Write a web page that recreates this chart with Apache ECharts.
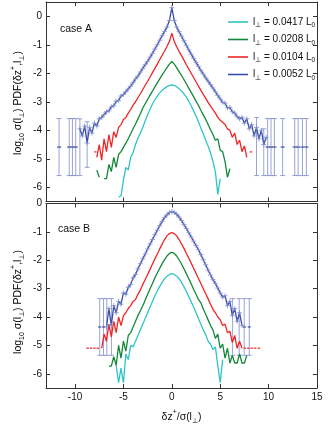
<!DOCTYPE html>
<html><head><meta charset="utf-8">
<script src="https://cdn.jsdelivr.net/npm/echarts@6/dist/echarts.min.js"></script>
<style>html,body{margin:0;padding:0;background:#fff}#c{width:333px;height:426px}</style>
</head><body><div id="c"></div>
<script>
// shared x grid (delta z+ / sigma), step 0.25 from -10 to 10
const xs = [
-10,-9.75,-9.5,-9.25, -9,-8.75,-8.5,-8.25, -8,-7.75,-7.5,-7.25, -7,-6.75,-6.5,-6.25,
-6,-5.75,-5.5,-5.25, -5,-4.75,-4.5,-4.25, -4,-3.75,-3.5,-3.25, -3,-2.75,-2.5,-2.25,
-2,-1.75,-1.5,-1.25, -1,-0.75,-0.5,-0.25,
0,0.25,0.5,0.75, 1,1.25,1.5,1.75, 2,2.25,2.5,2.75, 3,3.25,3.5,3.75, 4,4.25,4.5,4.75,
5,5.25,5.5,5.75, 6,6.25,6.5,6.75, 7,7.25,7.5,7.75, 8,8.25,8.5,8.75, 9,9.25,9.5,9.75,
10];
const legendNames = ['0.0417','0.0208','0.0104','0.0052'];

// ---- case A ----
const cyanA = [
null,null,null,null, null,null,null,null, null,null,null,null, null,null,null,null,
null,null,-6.35,-6.3, -5.75,-5.3,-5.4,-4.95, -4.78,-4.5,-4.28,-4.1, -3.9,-3.67,-3.46,-3.26,
-3.08,-2.93,-2.8,-2.69, -2.6,-2.53,-2.47,-2.43,
-2.41,-2.43,-2.47,-2.54, -2.62,-2.72,-2.84,-2.98, -3.14,-3.32,-3.5,-3.7, -3.92,-4.12,-4.35,-4.55,
-4.8,-5.1,-5.45,-6.25, -5.7,null,null,null, null,null,null,null, null,null,null,null,
null,null,null,null, null,null,null,null, null];
const greenA = [
null,null,null,null, null,null,null,null, null,-5.4,-5.65,null, -5.7,-5.7,-5.2,-5.45,
-4.95,-5.3,-4.85,-4.75, -4.6,-4.45,-4.3,-4.12, -3.95,-3.78,-3.6,-3.42, -3.22,-3.07,-2.92,-2.77,
-2.63,-2.48,-2.34,-2.2, -2.06,-1.93,-1.8,-1.68,
-1.59,-1.68,-1.8,-1.94, -2.08,-2.22,-2.37,-2.52, -2.67,-2.82,-2.98,-3.13, -3.3,-3.46,-3.62,-3.8,
-3.98,-4.15,-4.35,-4.3, -4.7,-4.75,-5.1,-5.65, -5.35,null,null,null, null,null,null,null,
null,null,null,null, null,null,null,null, null];
const redA = [
null,null,null,null, null,null,null,null, null,-4.95,-4.5,-5.05, -4.3,-4.75,-4.15,-4.6,
-4.05,-4.25,-3.9,-3.8, -3.62,-3.55,-3.4,-3.28, -3.12,-3.0,-2.86,-2.72, -2.57,-2.42,-2.28,-2.13,
-1.98,-1.83,-1.68,-1.52, -1.37,-1.22,-1.06,-0.88,
-0.59,-0.88,-1.07,-1.23, -1.38,-1.54,-1.7,-1.85, -2.0,-2.15,-2.3,-2.45, -2.6,-2.74,-2.88,-3.02,
-3.15,-3.28,-3.4,-3.55, -3.65,-3.72,-3.8,-3.95, -4.0,-4.25,-4.1,-4.5, -4.35,-4.75,-4.55,-4.95,
null,null,null,null, null,null,null,null, null];
const blueA = [
null,null,-3.95,-4.2, -3.85,-4.45,-3.9,-4.1, -3.75,-3.85,-3.6,-3.55, -3.45,-3.35,-3.32,-3.18,
-3.14,-2.98,-2.96,-2.8, -2.75,-2.65,-2.55,-2.45, -2.33,-2.2,-2.1,-1.96, -1.83,-1.7,-1.58,-1.44,
-1.3,-1.15,-1.0,-0.84, -0.68,-0.53,-0.38,-0.15,
0.3,-0.15,-0.38,-0.54, -0.7,-0.86,-1.02,-1.18, -1.33,-1.48,-1.62,-1.76, -1.9,-2.03,-2.16,-2.28,
-2.4,-2.52,-2.65,-2.78, -2.9,-3.02,-3.05,-3.22, -3.2,-3.35,-3.4,-3.52, -3.6,-3.55,-3.75,-3.6,
-3.95,-3.8,-4.2,-3.9, -4.3,-4.0,-4.5,-4.25, null];
// isolated single-count points, case A
const blueAIsoX = [-11.65,-10.6,-10.27,-9.93, 9.9,10.25,10.6,11.45,12.7,13.05,13.5,13.9];
const blueAIsoY = [-4.59,-4.59,-4.59,-4.59, -4.59,-4.59,-4.59,-4.59,-4.59,-4.59,-4.59,-4.59];
const redAIsoX = [-7.9, 8.17];
const redAIsoY = [-4.76, -4.76];
// large error bars, case A (blue)
const errAX  = [-11.65,-10.6,-10.27,-9.93,-9.5,-8.75, 8.75, 9.5, 9.9,10.25,10.6,11.45,12.7,13.05,13.5,13.9];
const errALo = [-5.59,-5.59,-5.59,-5.59,-5.59,-5.3, -5.59,-5.59, -5.59,-5.59,-5.59,-5.59,-5.59,-5.59,-5.59,-5.59];
const errAHi = [-3.59,-3.59,-3.59,-3.59,-3.6,-3.7, -3.55,-3.95, -3.59,-3.59,-3.59,-3.59,-3.59,-3.59,-3.59,-3.59];

// ---- case B ----
const cyanB = [
null,null,null,null, null,null,null,null, null,null,null,null, null,null,null,null,
null,-5.7,-6.31,-5.8, -6.31,-5.3,-5.5,-5.0, -5.05,-4.85,-4.65,-4.45, -4.25,-4.05,-3.85,-3.65,
-3.45,-3.25,-3.08,-2.92, -2.78,-2.65,-2.56,-2.5,
-2.47,-2.5,-2.56,-2.65, -2.78,-2.93,-3.1,-3.28, -3.46,-3.65,-3.84,-4.05, -4.25,-4.45,-4.62,-4.85,
-4.95,-5.15,-5.05,-5.7, -6.31,-5.5,null,null, null,null,null,null, null,null,null,null,
null,null,null,null, null,null,null,null, null];
const greenB = [
null,null,null,null, null,null,null,null, null,null,null,null, null,null,-5.73,-5.73,
-5.4,-5.7,-5.0,-5.45, -4.85,-5.2,-4.65,-4.55, -4.35,-4.15,-3.95,-3.78, -3.6,-3.4,-3.2,-3.0,
-2.82,-2.62,-2.45,-2.28, -2.12,-1.98,-1.85,-1.76,
-1.72,-1.76,-1.85,-1.98, -2.13,-2.3,-2.47,-2.65, -2.83,-3.02,-3.2,-3.38, -3.5,-3.72,-3.9,-4.1,
-4.3,-4.45,-4.75,-4.6, -5.1,-4.95,-5.45,-5.1, -5.62,-5.35,-5.62,-5.62, -5.3,-5.62,-5.62,-5.35,
null,null,null,null, null,null,null,null, null];
const redB = [
null,null,null,null, null,null,null,null, null,null,null,-5.1, -4.6,-4.85,-4.25,-4.7,
-4.15,-4.55,-4.0,-4.3, -3.95,-3.85,-3.7,-3.6, -3.45,-3.38,-3.2,-3.05, -2.85,-2.68,-2.5,-2.32,
-2.13,-1.95,-1.78,-1.6, -1.43,-1.27,-1.14,-1.06,
-1.03,-1.06,-1.14,-1.27, -1.42,-1.58,-1.75,-1.92, -2.1,-2.28,-2.46,-2.64, -2.82,-3.0,-3.18,-3.36,
-3.55,-3.72,-3.85,-4.0, -4.1,-4.3,-4.25,-4.55, -4.5,-4.9,-4.65,-5.1, -4.85,-5.1,null,null,
null,null,null,null, null,null,null,null, null];
const blueB = [
null,null,null,null, null,null,null,null, null,null,null,null, null,-4.35,-3.7,-4.3,
-3.6,-3.85,-3.45,-3.55, -3.15,-3.2,-2.95,-2.85, -2.62,-2.5,-2.3,-2.12, -1.95,-1.78,-1.6,-1.43,
-1.27,-1.1,-0.94,-0.78, -0.63,-0.5,-0.4,-0.32,
-0.29,-0.31,-0.38,-0.48, -0.6,-0.74,-0.88,-1.03, -1.18,-1.33,-1.48,-1.63, -1.8,-1.98,-2.16,-2.35,
-2.52,-2.68,-2.82,-2.98, -3.15,-3.3,-3.25,-3.6, -3.45,-3.95,-3.7,-4.15, -3.85,-4.3,null,null,
null,null,null,null, null,null,null,null, null];
const blueBIsoX = [-7.45,-7.06, 7.5, 8.0];
const blueBIsoY = [-4.35,-4.35,-4.35,-4.35];
const redBIsoX = [-8.7,-8.35,-8.0,-7.65, 7.55,7.9,8.25,8.6,9.0];
const redBIsoY = [-5.1,-5.1,-5.1,-5.1, -5.1,-5.1,-5.1,-5.1,-5.1];
const errBX  = [-7.45,-7.06,-6.72,-6.24, 6.28,6.96,7.48,8.0];
const errBLo = [-5.35,-5.35,-5.35,-5.35, -5.35,-5.35,-5.35,-5.35];
const errBHi = [-3.35,-3.35,-3.35,-3.35, -3.35,-3.35,-3.35,-3.35];

const xTicks = [-10,-5,0,5,10,15];
const yTicksA = [-6,-5,-4,-3,-2,-1,0];
const yTicksB = [-6,-5,-4,-3,-2,-1,0];

const C = {cyan:'#2ec5c5', green:'#14883a', red:'#f02626', blue:'#3a4ea8', err:'rgba(128,140,205,0.8)'};
const FONT = 'Liberation Sans, Arial, sans-serif';
const AX = '#333';

function xAx(grid, pos, labels, extra) {
  return Object.assign({
    type:'value', gridIndex:grid, position:pos, min:-13, max:15,
    axisLine:{show:true, onZero:false, lineStyle:{color:AX, width:1}},
    axisTick:{show:true, inside:true, length:4, customValues:xTicks, lineStyle:{color:AX}},
    axisLabel:{show:labels, customValues:xTicks, fontSize:10, color:'#111', fontFamily:FONT, margin:4},
    splitLine:{show:false}
  }, extra||{});
}
function yAx(grid, pos, labels, min, max, ticks) {
  return {
    type:'value', gridIndex:grid, position:pos, min:min, max:max,
    axisLine:{show:true, onZero:false, lineStyle:{color:AX, width:1}},
    axisTick:{show:true, inside:true, length:4, customValues:ticks, lineStyle:{color:AX}},
    axisLabel:{show:labels, customValues:ticks, fontSize:10, color:'#111', fontFamily:FONT, margin:4},
    splitLine:{show:false}
  };
}
function line(name, vals, color, xi, yi, plus) {
  const s = {
    type:'line', name:name, xAxisIndex:xi, yAxisIndex:yi,
    data: xs.map((x,i)=>[x, vals[i]]),
    lineStyle:{color:color, width:1.3}, itemStyle:{color:color},
    showSymbol:false, symbol:'none', connectNulls:false, z:3
  };
  if (plus) {
    s.showSymbol = true; s.showAllSymbol = true;
    s.symbol = 'path://M0,5L10,5M5,0L5,10'; s.symbolSize = 5;
    s.itemStyle = {color:'rgba(0,0,0,0)', borderColor:C.err, borderWidth:1};
  }
  return s;
}
function iso(name, xsI, ysI, color, xi, yi, w) {
  return {type:'scatter', name:name, xAxisIndex:xi, yAxisIndex:yi, symbol:'rect', symbolSize:[w,1.5],
    data: xsI.map((x,i)=>[x, ysI[i]]), itemStyle:{color:color}, z:3, silent:true};
}
function errBars(ex, lo, hi, xi, yi) {
  return {type:'custom', xAxisIndex:xi, yAxisIndex:yi, z:2, silent:true,
    data: ex.map((x,i)=>[x, lo[i], hi[i]]),
    encode:{x:0, y:[1,2]},
    renderItem:function(params, api){
      const a = api.coord([api.value(0), api.value(1)]);
      const b = api.coord([api.value(0), api.value(2)]);
      const w = 2.5, st = {stroke:C.err, lineWidth:1};
      return {type:'group', children:[
        {type:'line', shape:{x1:a[0],y1:a[1],x2:b[0],y2:b[1]}, style:st},
        {type:'line', shape:{x1:a[0]-w,y1:a[1],x2:a[0]+w,y2:a[1]}, style:st},
        {type:'line', shape:{x1:b[0]-w,y1:b[1],x2:b[0]+w,y2:b[1]}, style:st}
      ]};
    }};
}

const richT = {
  a:{fontSize:10.5, fontFamily:FONT, color:'#111', lineHeight:16, verticalAlign:'middle'},
  b:{fontSize:7, fontFamily:FONT, color:'#111', lineHeight:9, verticalAlign:'bottom'},
  p:{fontSize:7, fontFamily:FONT, color:'#111', lineHeight:9, verticalAlign:'top'}
};
const yName = '{a|log}{b|10}{a| σ(l}{b|⊥}{a|) PDF(δz}{p|+}{a|,l}{b|⊥}{a|)}';
const legendColors = [C.cyan, C.green, C.red, C.blue];

const option = {
  animation:false,
  backgroundColor:'#fff',
  grid:[
    {left:46, right:16, top:2, height:199.5},
    {left:46, right:16, top:203.5, height:189}
  ],
  xAxis:[
    xAx(0,'bottom',false),
    xAx(0,'top',false),
    xAx(1,'bottom',true,{name:'{a|δz}{p|+}{a|/σ(l}{b|⊥}{a|)}', nameLocation:'middle', nameGap:21,
      nameTextStyle:{rich:richT}}),
    xAx(1,'top',false)
  ],
  yAxis:[
    yAx(0,'left',true,-6.5,0.5,yTicksA),
    yAx(0,'right',false,-6.5,0.5,yTicksA),
    yAx(1,'left',true,-6.5,0,yTicksB),
    yAx(1,'right',false,-6.5,0,yTicksB)
  ],
  legend:{
    data:legendNames.map((n,i)=>({name:n, itemStyle:{color:legendColors[i], borderWidth:0}})),
    icon:'path://M0,0L20,0L20,1.6L0,1.6Z', symbolKeepAspect:true,
    orient:'vertical', left:223, top:12, itemWidth:20, itemHeight:14, itemGap:5.5,
    formatter:function(n){ return '{a|l}{b|⊥}{a| = '+n+' L}{b|0}'; },
    textStyle:{rich:{
      a:{fontSize:10, fontFamily:FONT, color:'#111', lineHeight:14, verticalAlign:'middle'},
      b:{fontSize:6.5, fontFamily:FONT, color:'#111', lineHeight:8, verticalAlign:'bottom'}
    }}
  },
  graphic:[
    {type:'text', left:60, top:24, style:{text:'case A', fontSize:10.5, fontFamily:FONT, fill:'#111'}},
    {type:'text', left:58, top:224, style:{text:'case B', fontSize:10.5, fontFamily:FONT, fill:'#111'}},
    {type:'text', x:18, y:103, rotation:Math.PI/2, style:{text:yName, rich:richT, align:'center', verticalAlign:'middle'}},
    {type:'text', x:18, y:302, rotation:Math.PI/2, style:{text:yName, rich:richT, align:'center', verticalAlign:'middle'}}
  ],
  series:[
    errBars(errAX, errALo, errAHi, 0, 0),
    line(legendNames[0], cyanA, C.cyan, 0, 0),
    line(legendNames[1], greenA, C.green, 0, 0),
    line(legendNames[2], redA, C.red, 0, 0),
    line(legendNames[3], blueA, C.blue, 0, 0, true),
    iso('isoBA', blueAIsoX, blueAIsoY, C.blue, 0, 0, 4),
    iso('isoRA', redAIsoX, redAIsoY, C.red, 0, 0, 2.5),
    errBars(errBX, errBLo, errBHi, 2, 2),
    line(legendNames[0], cyanB, C.cyan, 2, 2),
    line(legendNames[1], greenB, C.green, 2, 2),
    line(legendNames[2], redB, C.red, 2, 2),
    line(legendNames[3], blueB, C.blue, 2, 2, true),
    iso('isoBB', blueBIsoX, blueBIsoY, C.blue, 2, 2, 3),
    iso('isoRB', redBIsoX, redBIsoY, C.red, 2, 2, 2.5)
  ]
};
const chart = echarts.init(document.getElementById('c'), null, {renderer:'canvas'});
chart.setOption(option);
</script>
</body></html>
